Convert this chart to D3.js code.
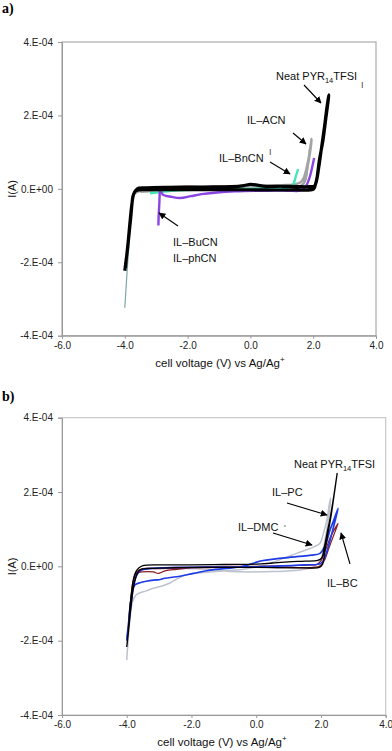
<!DOCTYPE html>
<html>
<head>
<meta charset="utf-8">
<script src="https://cdn.jsdelivr.net/npm/d3@7"></script>
<style>
  body { margin: 0; background: #fff; }
  svg { display: block; font-family: "Liberation Sans", Arial, sans-serif; }
</style>
</head>
<body>
<div id="chart"></div>
<script>
const xTicks = [-6, -4, -2, 0, 2, 4];
const xTickLabels = ["-6.0", "-4.0", "-2.0", "0.0", "2.0", "4.0"];
const yTicks = [-4, -2, 0, 2, 4];
const yTickLabels = ["-4.E-04", "-2.E-04", "0.E+00", "2.E-04", "4.E-04"];

// currents are in units of 1E-04 A, voltages in V
// panel a
const neatA = [[-4.0,-2.23],[-3.96,-1.95],[-3.92,-1.69],[-3.86,-1.2],[-3.81,-0.78],[-3.77,-0.4],[-3.74,-0.2],[-3.68,-0.08],[-3.58,-0.03],[-3.3,-0.02],[-2.5,-0.02],[-1.5,-0.02],[-0.5,-0.02],[0.5,-0.03],[1.5,-0.03],[1.9,-0.03],[2.02,0.0],[2.08,0.15],[2.12,0.3],[2.2,0.8],[2.31,1.31],[2.4,1.9],[2.5,2.56],
  [2.45,2.3],[2.36,1.7],[2.27,1.15],[2.18,0.6],[2.1,0.2],[2.04,0.08],[1.9,0.06],[1.5,0.06],[1.0,0.07],[0.5,0.07],[0.0,0.12],[-0.2,0.09],[-0.6,0.06],[-1.5,0.05],[-2.5,0.04],[-3.3,0.03],[-3.55,0.02],[-3.65,-0.04],[-3.72,-0.15],[-3.78,-0.45],[-3.84,-0.95],[-3.9,-1.5],[-3.95,-1.9],[-3.98,-2.15]];
const phCN = [[-4.0,-3.24],[-3.93,-2.3],[-3.86,-1.42],[-3.8,-0.7],[-3.74,-0.25],[-3.66,-0.08],[-3.5,-0.03],[-3.0,-0.06],[-2.5,-0.05],[-2.0,-0.03],[-1.0,0.0],[0.0,0.02],[1.0,0.03],[1.6,0.05],[1.75,0.2],[1.83,0.6],[1.88,1.1]];
const acn = [[-3.7,-0.12],[-3.5,-0.05],[-3.0,0.02],[-2.5,0.05],[-2.0,0.06],[-1.5,0.05],[-1.0,0.06],[-0.5,0.07],[0.0,0.09],[0.5,0.08],[1.0,0.1],[1.4,0.12],[1.6,0.18],[1.7,0.3],[1.8,0.6],[1.88,0.95],[1.95,1.36],
  [1.9,1.0],[1.84,0.7],[1.78,0.4],[1.7,0.15],[1.5,0.03],[1.0,0.01],[0.0,0.0],[-1.0,0.0],[-2.0,-0.02],[-3.0,-0.05],[-3.5,-0.08]];
const bnCN = [[-3.2,-0.12],[-3.0,-0.1],[-2.5,-0.05],[-2.0,-0.03],[-1.0,-0.01],[0.0,0.0],[1.0,0.02],[1.3,0.06],[1.37,0.13],[1.45,0.35],[1.52,0.54]];
const buCN = [[-2.93,-1.0],[-2.92,-0.7],[-2.9,-0.4],[-2.89,-0.15],[-2.88,0.01],[-2.8,-0.15],[-2.5,-0.22],[-2.24,-0.25],[-1.9,-0.2],[-1.6,-0.15],[-1.07,-0.1],[-0.5,-0.07],[0.52,-0.05],[1.2,-0.05],[1.58,-0.05],[1.7,0.0],[1.8,0.12],[1.9,0.35],[1.97,0.6],[2.03,0.84]];

// panel b
const neatB = [[-4.0,-2.17],[-3.95,-1.7],[-3.9,-1.09],[-3.85,-0.7],[-3.8,-0.37],[-3.72,-0.15],[-3.62,-0.04],[-3.5,0.02],[-3.0,0.04],[-2.0,0.04],[-1.0,0.05],[0.0,0.06],[0.5,0.09],[1.0,0.12],[1.5,0.14],[1.9,0.16],[2.02,0.22],[2.1,0.5],[2.2,0.95],[2.27,1.24],[2.38,1.8],[2.5,2.5],
  [2.42,2.0],[2.32,1.4],[2.22,0.9],[2.12,0.4],[2.05,0.06],[1.95,-0.03],[1.5,-0.04],[0.0,-0.03],[-1.0,-0.03],[-2.0,-0.03],[-3.0,-0.05],[-3.5,-0.07],[-3.62,-0.12],[-3.72,-0.3],[-3.8,-0.6],[-3.87,-1.1],[-3.94,-1.7],[-3.99,-2.1]];
const pc = [[-4.0,-2.0],[-3.95,-1.6],[-3.9,-1.1],[-3.83,-0.7],[-3.75,-0.5],[-3.59,-0.44],[-3.4,-0.4],[-3.18,-0.37],[-3.0,-0.36],[-2.82,-0.32],[-2.46,-0.28],[-1.94,-0.19],[-1.43,-0.1],[-0.41,0.0],[0.17,0.15],[1.25,0.26],[1.7,0.3],[1.97,0.35],[2.15,0.6],[2.28,0.98],[2.4,1.25],[2.53,1.56],
  [2.4,1.1],[2.25,0.6],[2.12,0.25],[2.0,0.08],[1.5,0.04],[0.5,0.0],[-0.5,-0.02],[-1.5,-0.02],[-2.5,-0.03],[-3.3,-0.06],[-3.55,-0.1],[-3.7,-0.25],[-3.8,-0.6],[-3.88,-1.1],[-3.95,-1.6],[-4.0,-1.95]];
const dmc = [[-4.0,-2.52],[-3.96,-2.0],[-3.9,-1.4],[-3.82,-0.95],[-3.72,-0.78],[-3.64,-0.73],[-3.4,-0.66],[-3.18,-0.59],[-3.0,-0.55],[-2.82,-0.5],[-2.65,-0.44],[-2.51,-0.37],[-2.15,-0.23],[-1.43,-0.15],[-0.4,-0.08],[0.3,0.05],[0.8,0.2],[1.25,0.35],[1.66,0.48],[1.97,0.62],[2.08,0.9],[2.18,1.24],[2.26,1.69],[2.3,1.84],
  [2.22,1.2],[2.1,0.6],[2.0,0.2],[1.8,0.0],[1.35,-0.1],[0.5,-0.14],[-0.8,-0.14],[-1.5,-0.08],[-2.5,-0.05],[-3.3,-0.05],[-3.6,-0.1],[-3.75,-0.3],[-3.85,-0.8],[-3.92,-1.5],[-3.97,-2.2]];
const bc = [[-3.98,-1.9],[-3.9,-1.1],[-3.8,-0.4],[-3.68,-0.18],[-3.54,-0.15],[-3.18,-0.15],[-3.03,-0.19],[-2.82,-0.12],[-2.46,-0.08],[-1.43,-0.01],[0.0,0.0],[1.0,0.02],[1.6,0.03],[1.87,0.05],[2.0,0.15],[2.1,0.35],[2.18,0.53],[2.3,0.8],[2.46,1.06],[2.53,1.16],
  [2.4,0.85],[2.25,0.5],[2.1,0.15],[1.95,0.0],[1.0,-0.03],[0.0,-0.03],[-1.0,-0.03],[-2.0,-0.04],[-3.0,-0.06],[-3.5,-0.06],[-3.7,-0.15],[-3.82,-0.5],[-3.92,-1.3],[-3.98,-1.9]];

const width = 392, height = 751;

const svg = d3.select("#chart")
    .append("svg")
    .attr("width", width)
    .attr("height", height);

svg.append("defs").append("marker")
    .attr("id", "arrow")
    .attr("viewBox", "0 0 10 10")
    .attr("refX", 9).attr("refY", 5)
    .attr("markerWidth", 7).attr("markerHeight", 7)
    .attr("markerUnits", "userSpaceOnUse")
    .attr("orient", "auto")
    .append("path")
    .attr("d", "M0,0 L10,5 L0,10 z")
    .attr("fill", "#000");

function drawPanel(p) {
    const x = d3.scaleLinear().domain([-6, 4]).range([p.left, p.right]);
    const y = d3.scaleLinear().domain([-4, 4]).range([p.bottom, p.top]);
    const g = svg.append("g");

    g.append("rect")
        .attr("x", p.left).attr("y", p.top)
        .attr("width", p.right - p.left).attr("height", p.bottom - p.top)
        .attr("fill", "none").attr("stroke", p.frame).attr("stroke-width", 1);

    const xAxis = g.append("g")
        .attr("transform", `translate(0,${p.bottom})`)
        .call(d3.axisBottom(x).tickValues(xTicks).tickSize(3)
            .tickFormat((d, i) => xTickLabels[i]));
    const yAxis = g.append("g")
        .attr("transform", `translate(${p.left},0)`)
        .call(d3.axisLeft(y).tickValues(yTicks).tickSize(4).tickPadding(5)
            .tickFormat((d, i) => yTickLabels[i]));
    for (const ax of [xAxis, yAxis]) {
        ax.select(".domain").attr("stroke", "#999");
        ax.selectAll(".tick line").attr("stroke", "#999");
        ax.selectAll(".tick text").attr("fill", "#222").style("font-size", "10px");
    }

    const line = d3.line()
        .x(d => x(d[0]))
        .y(d => y(d[1]))
        .curve(d3.curveCatmullRom.alpha(0.5));

    g.selectAll(".series")
        .data(p.series)
        .join("path")
        .attr("class", "series")
        .attr("fill", "none")
        .attr("stroke", d => d.color)
        .attr("stroke-width", d => d.width)
        .attr("stroke-linejoin", "round")
        .attr("d", d => line(d.values));

    // axis titles
    const xt = g.append("text")
        .attr("x", p.titleX)
        .attr("y", p.bottom + 31)
        .attr("text-anchor", "middle")
        .attr("fill", "#111")
        .style("font-size", "11.5px")
        .text("cell voltage (V) vs Ag/Ag");
    xt.append("tspan").attr("dy", -5).style("font-size", "8px").text("+");

    g.append("text")
        .attr("transform", `translate(16,${y(0)}) rotate(-90)`)
        .attr("text-anchor", "middle")
        .attr("fill", "#111")
        .style("font-size", "11px")
        .text("I(A)");

    g.append("text")
        .attr("x", 2).attr("y", p.labelY)
        .style("font-family", "'Liberation Serif', 'Times New Roman', serif")
        .style("font-weight", "bold")
        .style("font-size", "14px")
        .text(p.label);

    // annotations
    for (const a of p.notes) {
        const t = g.append("text")
            .attr("x", a.x).attr("y", a.y)
            .attr("fill", "#111")
            .style("font-size", "11px");
        if (a.sub) {
            t.append("tspan").text(a.text);
            t.append("tspan").attr("dy", 3).style("font-size", "7.5px").text(a.sub);
            t.append("tspan").attr("dy", -3).text(a.after);
        } else {
            t.text(a.text);
        }
        if (a.arrow) {
            g.append("line")
                .attr("x1", a.arrow[0]).attr("y1", a.arrow[1])
                .attr("x2", a.arrow[2]).attr("y2", a.arrow[3])
                .attr("stroke", "#000").attr("stroke-width", 1.1)
                .attr("marker-end", "url(#arrow)");
        }
    }
    for (const m of p.marks) {
        g.append("text").attr("x", m.x).attr("y", m.y)
            .attr("fill", "#444").style("font-size", "9px").text(m.text);
    }
}

drawPanel({
    label: "a)", labelY: 13, titleX: 220,
    left: 62, right: 376, top: 42, bottom: 335.7, frame: "#9a9a9a",
    series: [
        { values: phCN, color: "#7da7a7", width: 1.2 },
        { values: acn, color: "#a4a4a4", width: 2.6 },
        { values: bnCN, color: "#44e6b6", width: 2.4 },
        { values: buCN, color: "#8a44e2", width: 2.4 },
        { values: neatA, color: "#000", width: 3.2 }
    ],
    notes: [
        { x: 276, y: 80, text: "Neat PYR", sub: "14", after: "TFSI", arrow: [304, 85, 321, 103] },
        { x: 247, y: 124, text: "IL–ACN", arrow: [293, 133, 306, 144] },
        { x: 219, y: 161.5, text: "IL–BnCN", arrow: [270, 162, 290, 174] },
        { x: 173, y: 246, text: "IL–BuCN", arrow: [178, 226, 159, 213] },
        { x: 173, y: 262, text: "IL–phCN" }
    ],
    marks: [
        { x: 361, y: 88, text: "I" },
        { x: 269, y: 155, text: "I" }
    ]
});

drawPanel({
    label: "b)", labelY: 401, titleX: 222,
    left: 62, right: 385.7, top: 417.7, bottom: 715, frame: "#bdbdbd",
    series: [
        { values: dmc, color: "#bcc3cf", width: 1.5 },
        { values: bc, color: "#8c1c1c", width: 1.2 },
        { values: pc, color: "#1f3be6", width: 1.7 },
        { values: neatB, color: "#000", width: 1.3 }
    ],
    notes: [
        { x: 294, y: 468, text: "Neat PYR", sub: "14", after: "TFSI" },
        { x: 272, y: 496, text: "IL–PC", arrow: [287, 503, 327, 515] },
        { x: 238, y: 531, text: "IL–DMC", arrow: [273, 533, 312, 545] },
        { x: 327, y: 587, text: "IL–BC", arrow: [350, 564, 341, 533] }
    ],
    marks: [
        { x: 284, y: 531, text: "'" }
    ]
});
</script>
</body>
</html>
